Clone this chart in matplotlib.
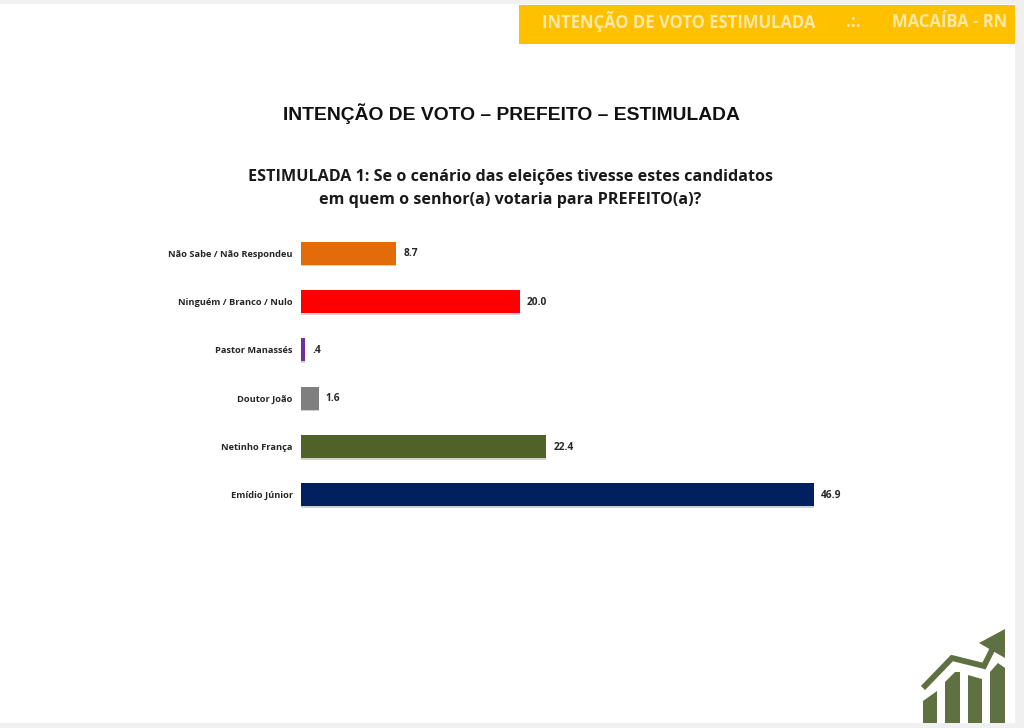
import matplotlib
matplotlib.use("Agg")
import matplotlib.pyplot as plt
from matplotlib.patches import Rectangle, Polygon
from matplotlib.lines import Line2D
import matplotlib.patheffects as pe

categories = ["Não Sabe / Não Respondeu", "Ninguém / Branco / Nulo", "Pastor Manassés",
              "Doutor João", "Netinho França", "Emídio Júnior"]
values = [8.7, 20.0, 0.4, 1.6, 22.4, 46.9]
value_labels = ["8.7", "20.0", ".4", "1.6", "22.4", "46.9"]
colors = ["#E36C0A", "#FF0000", "#7030A0", "#7F7F7F", "#4F6228", "#002060"]

W, H = 1024, 728
fig = plt.figure(figsize=(W / 100, H / 100), dpi=100, facecolor="white")
plt.rcParams["font.family"] = ["Open Sans", "DejaVu Sans"]


def px(x, y):
    return x / W, 1 - y / H


# page edges
for (x, y, w, h) in [(0, 0, 1024, 4), (1015, 0, 9, 728), (0, 723, 1024, 5)]:
    fig.add_artist(Rectangle(px(x, y + h), w / W, h / H, transform=fig.transFigure,
                             facecolor="#F0F0F0", edgecolor="none"))

# header band
fig.add_artist(Rectangle(px(519, 44), 496 / W, 39 / H, transform=fig.transFigure,
                         facecolor="#FFC000", edgecolor="none"))
hdr = dict(transform=fig.transFigure, color="#FFE9A8", fontsize=11.95, fontweight="bold", va="center")
fig.text(*px(542, 21), "INTENÇÃO DE VOTO ESTIMULADA", **hdr)
fig.text(*px(853, 22), ".:.", ha="center", **hdr)
fig.text(*px(892, 22), "MACAÍBA - RN", **hdr)

# titles
fig.text(*px(511.5, 114), "INTENÇÃO DE VOTO – PREFEITO – ESTIMULADA", ha="center", va="center",
         fontsize=13.9, fontweight="bold", family=["Liberation Sans"], color="#111111")
fig.text(*px(511, 177), "ESTIMULADA 1: Se o cenário das eleições tivesse estes candidatos",
         ha="center", va="center", fontsize=11.65, fontweight="bold", color="#1a1a1a")
fig.text(*px(510, 200), "em quem o senhor(a) votaria para PREFEITO(a)?",
         ha="center", va="center", fontsize=11.65, fontweight="bold", color="#1a1a1a")

# chart
ax_left, ax_right, ax_top, ax_bottom = 301, 860, 229, 519
ax = fig.add_axes([ax_left / W, 1 - ax_bottom / H, (ax_right - ax_left) / W, (ax_bottom - ax_top) / H])
ax.set_facecolor("none")
ypos = list(range(len(categories)))
bars = ax.barh(ypos, values, height=0.48, color=colors, edgecolor="none", zorder=3,
               path_effects=[pe.SimplePatchShadow(offset=(0, -1.2), shadow_rgbFace="#999999", alpha=0.45),
                             pe.Normal()])
ax.set_xlim(0, (ax_right - ax_left) / (513 / 46.9))
ax.set_ylim(len(categories) - 0.5, -0.5)
ax.set_yticks(ypos, categories)
ax.set_xticks([])
ax.tick_params(axis="y", length=0, pad=6)
for lab in ax.get_yticklabels():
    lab.set_fontsize(6.65)
    lab.set_fontweight("bold")
    lab.set_color("#262626")
for s in ax.spines.values():
    s.set_visible(False)
for y, v, t in zip(ypos, values, value_labels):
    ax.annotate(t, (v, y), xytext=(5.2, -0.5), textcoords="offset points", va="center", ha="left",
                fontsize=7.3, fontweight="bold", color="#262626")

# logo
logo = "#5F7041"
def poly(pts):
    fig.add_artist(Polygon([px(*p) for p in pts], closed=True, transform=fig.transFigure,
                           facecolor=logo, edgecolor="none"))

poly([(923, 723), (923, 701), (937, 691), (937, 723)])
poly([(945, 723), (945, 682), (955, 672), (960, 672), (960, 723)])
poly([(968, 723), (968, 675), (982, 679), (982, 723)])
poly([(990, 723), (990, 672), (998, 663), (1005, 668), (1005, 723)])
xs, ys = zip(*[(923, 688), (952, 658), (984, 666), (993, 648)])
fig.add_artist(Line2D([x / W for x in xs], [1 - y / H for y in ys], transform=fig.transFigure,
                      color=logo, lw=4.2, solid_joinstyle="miter", solid_capstyle="butt"))
poly([(1005, 629), (979, 643), (1005, 658)])

fig.savefig("out.png", dpi=100, facecolor="white")
